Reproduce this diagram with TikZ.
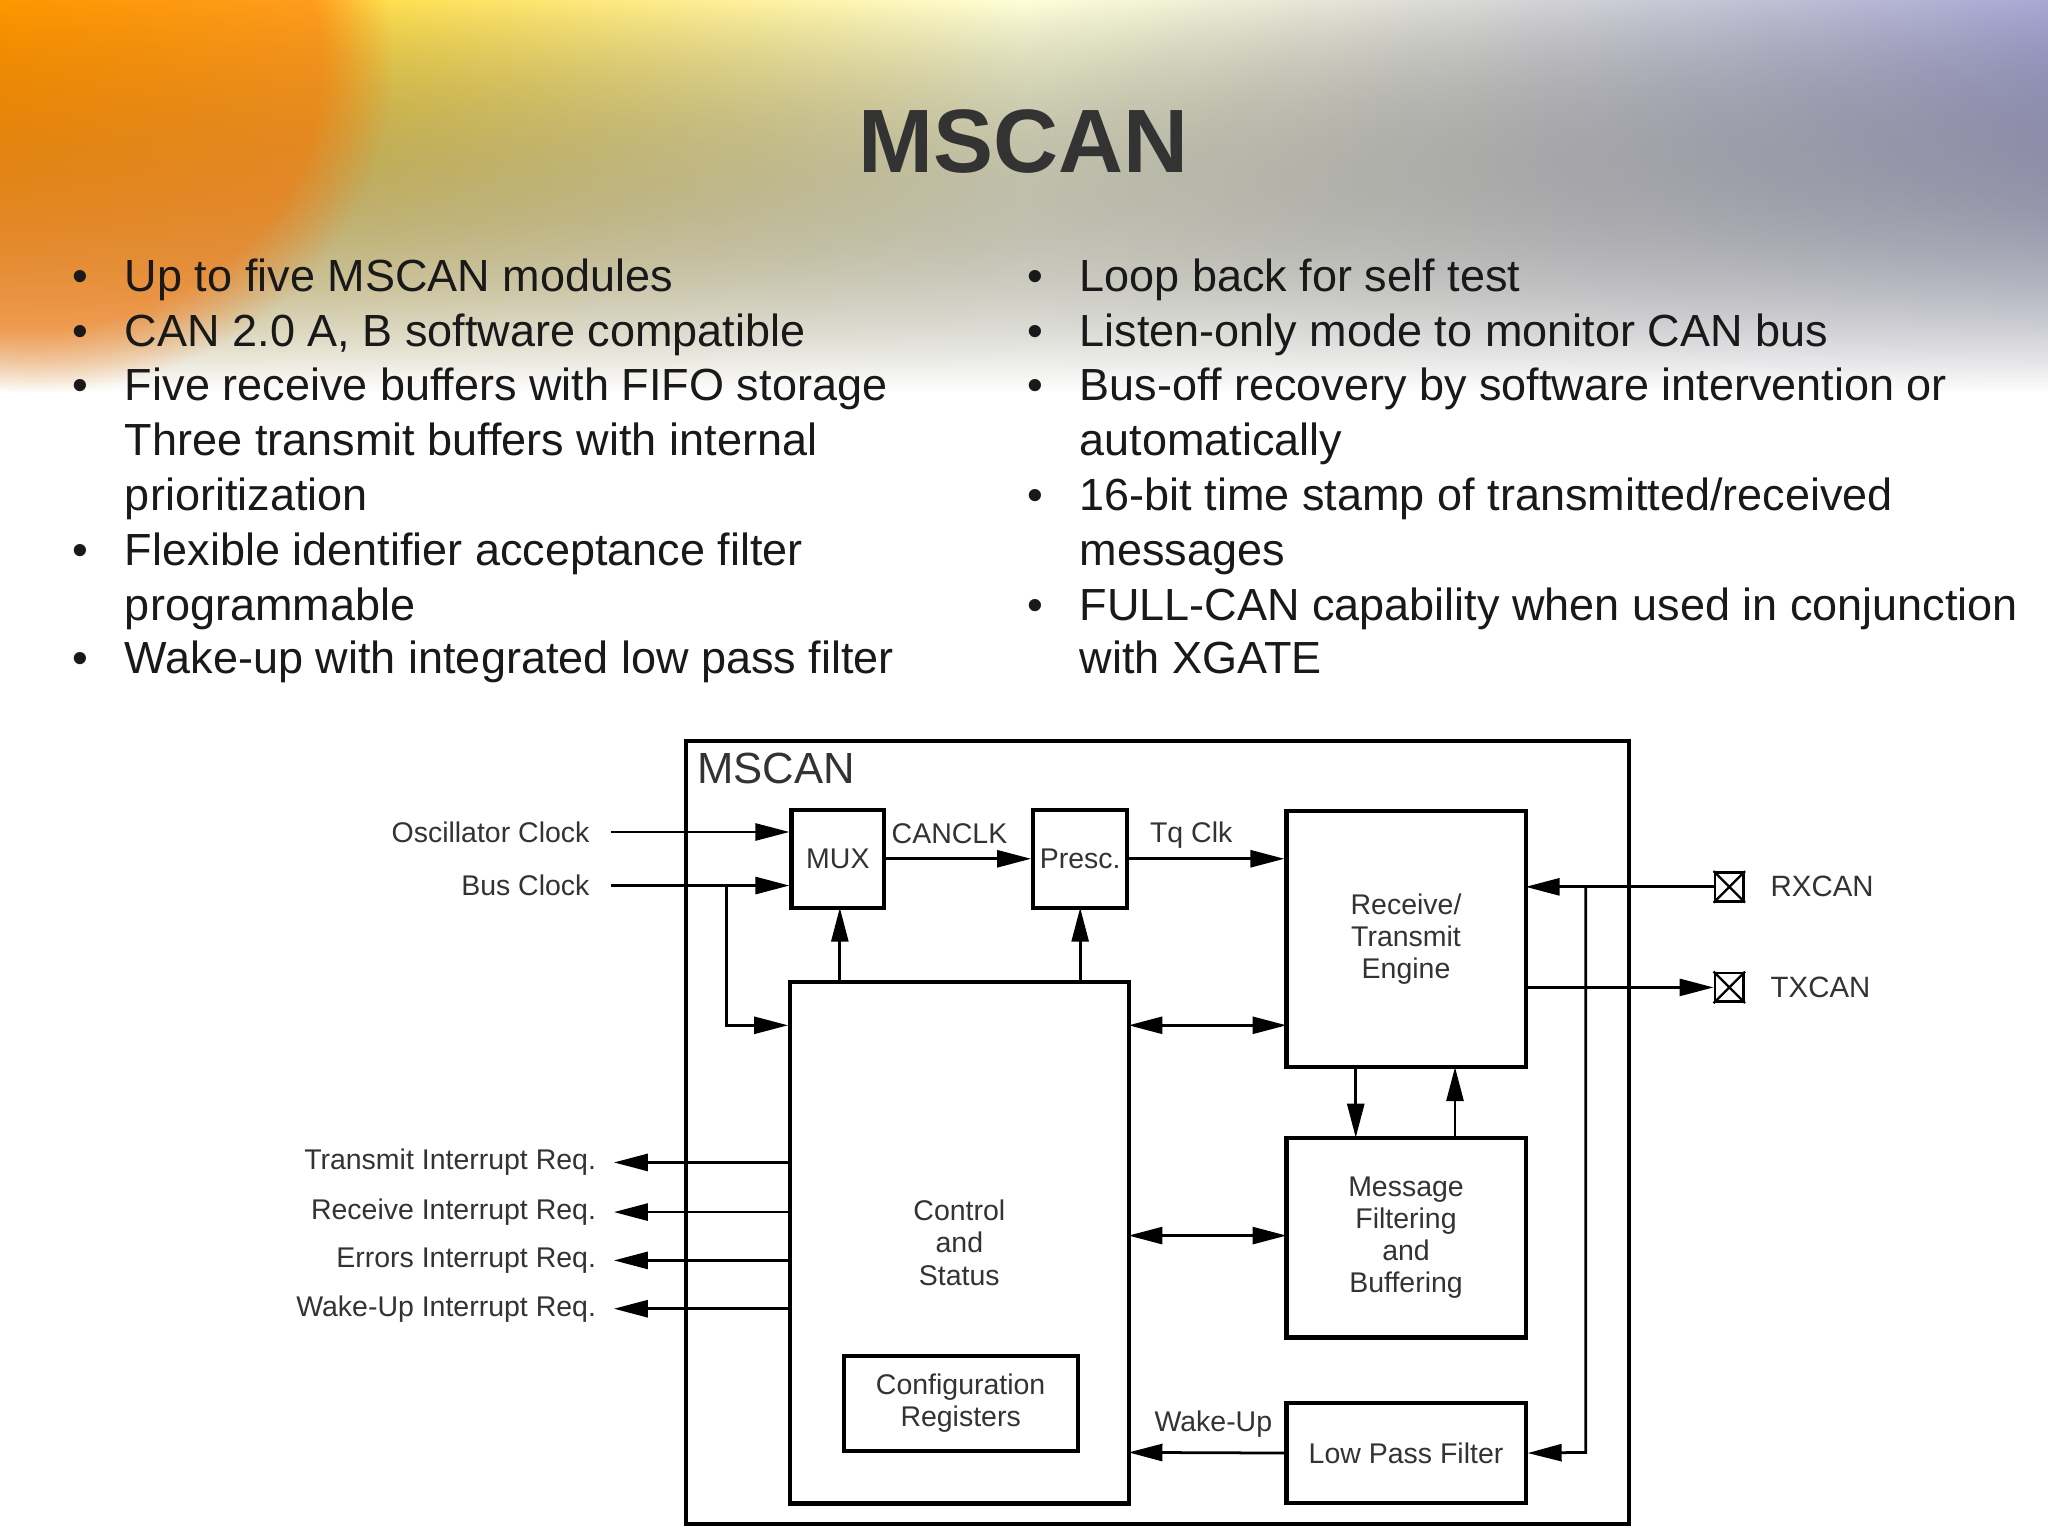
\documentclass[tikz,border=0pt]{standalone}
\usepackage{fontspec}
\setmainfont{Liberation Sans}
\usetikzlibrary{arrows.meta,fadings}
\begin{document}
\begin{tikzpicture}[x=0.01cm,y=-0.01cm,
  box/.style={draw,line width=0.9pt},
  lbl/.style={font=\fontsize{6.2}{7}\selectfont,text=black!80,inner sep=0},
  arr/.style={line width=0.6pt,-{Triangle[length=0.26cm,width=0.13cm]}},
  darr/.style={line width=0.6pt,{Triangle[length=0.26cm,width=0.13cm]}-{Triangle[length=0.26cm,width=0.13cm]}},
  bul/.style={font=\fontsize{9.8}{11.9}\selectfont,anchor=base west,inner sep=0,text=black!90}]
\useasboundingbox (0,0) rectangle (1568,1176);
\fill[white] (0,0) rectangle (1568,1176);
\fill[left color=yellow!60!orange, right color=blue!35!gray!50, middle color=yellow!15!white, path fading=south] (0,0) rectangle (1568,300);
\fill[orange!85!red, path fading=circle with fuzzy edge 20 percent, opacity=0.55] (-250,-200) rectangle (300,300);
\fill[white] (195,543) rectangle (1460,1176);
\node[font=\fontsize{19.6}{24}\selectfont\bfseries,text=black!80] (title) at (784,108) {MSCAN};
% bullets
\foreach \y/\t in {213/Up to five MSCAN modules,255/{CAN 2.0 A, B software compatible},297/Five receive buffers with FIFO storage,423/Flexible identifier acceptance filter,506/Wake-up with integrated low pass filter}
  {\node[bul] at (55,\y+10) {\textbullet}; \node[bul] at (95,\y+10) {\t};}
\node[bul] at (95,349) {Three transmit buffers with internal};
\node[bul] at (95,391) {prioritization};
\node[bul] at (95,475) {programmable};
\foreach \y/\t in {213/Loop back for self test,255/Listen-only mode to monitor CAN bus,297/Bus-off recovery by software intervention or,381/{16-bit time stamp of transmitted/received},465/FULL-CAN capability when used in conjunction}
  {\node[bul] at (786,\y+10) {\textbullet}; \node[bul] at (826,\y+10) {\t};}
\node[bul] at (826,349) {automatically};
\node[bul] at (826,433) {messages};
\node[bul] at (826,516) {with XGATE};
% diagram
\draw[box] (525,567) rectangle (1247,1167);
\node[font=\fontsize{9.5}{11}\selectfont,anchor=west,inner sep=0,text=black!80] at (533,588) {MSCAN};
\node[box,minimum width=0.71cm,minimum height=0.75cm,lbl] (mux) at (641.5,657.5) {MUX};
\node[box,minimum width=0.72cm,minimum height=0.75cm,lbl] (presc) at (827,657.5) {Presc.};
\node[box,minimum width=1.83cm,minimum height=1.96cm,lbl,align=center] (rte) at (1076.5,719) {Receive/\\Transmit\\Engine};
\node[box,minimum width=2.59cm,minimum height=3.99cm,lbl,align=center] (ctrl) at (734.5,951.5) {Control\\and\\Status};
\node[box,minimum width=1.79cm,minimum height=0.73cm,lbl,align=center] (cfg) at (735.5,1074.5) {Configuration\\Registers};
\node[box,minimum width=1.83cm,minimum height=1.53cm,lbl,align=center] (mfb) at (1076.5,947.5) {Message\\Filtering\\and\\Buffering};
\node[box,minimum width=1.83cm,minimum height=0.77cm,lbl] (lpf) at (1076.5,1112.5) {Low Pass Filter};
% clocks
\node[lbl,anchor=east] (osc) at (452,637) {Oscillator Clock};
\node[lbl,anchor=east] (bus) at (452,678) {Bus Clock};
\coordinate (osce) at (468,637); \coordinate (buse) at (468,678);
\draw[arr] (osce) -- (osce -| mux.west);
\draw[arr] (buse) -- (buse -| mux.west);
\coordinate (br) at (556,678); \coordinate (brd) at (556,785);
\draw[arr] (br) -- (brd) -- (brd -| ctrl.west);
\draw[arr] (mux.east) -- node[lbl,above=3pt,xshift=-2pt]{CANCLK} (presc.west);
\draw[arr] (presc.east) -- node[lbl,above=2pt,xshift=-3.4pt]{Tq Clk} (presc.east -| rte.west);
\draw[arr] (643,752) -- (643,695);
\draw[arr] (827,752) -- (827,695);
\draw[darr] (864,785) -- (985,785);
\draw[darr] (864,946) -- (985,946);
\draw[arr] (1038,817) -- (1038,871);
\draw[arr] (1114,871) -- (1114,817);
% interrupts
\foreach \y/\t in {890/Transmit Interrupt Req.,928/Receive Interrupt Req.,965/Errors Interrupt Req.,1002/Wake-Up Interrupt Req.}
  {\coordinate (i\y) at (470,\y); \draw[arr] (605,\y) -- (i\y); \node[lbl,anchor=east] at (457,\y) {\t};}
% rx/tx
\node[draw,line width=0.6pt,minimum size=0.22cm,inner sep=0] (rx) at (1324,679) {};
\draw[line width=0.5pt] (rx.north west)--(rx.south east) (rx.north east)--(rx.south west);
\node[draw,line width=0.6pt,minimum size=0.22cm,inner sep=0] (tx) at (1324,756) {};
\draw[line width=0.5pt] (tx.north west)--(tx.south east) (tx.north east)--(tx.south west);
\node[lbl,anchor=west,font=\fontsize{6.4}{7}\selectfont] at (1355,679) {RXCAN};
\node[lbl,anchor=west,font=\fontsize{6.4}{7}\selectfont] at (1355,756) {TXCAN};
\draw[arr] (rx.west) -- (1168,679);
\coordinate (rb) at (1214,679); \coordinate (rbd) at (1214,1112);
\draw[arr] (rb) -- (rbd) -- (lpf.east);
\draw[arr] (1168,756) -- (tx.west);
\draw[arr] (lpf.west) -- node[lbl,above=3pt,xshift=1.5pt]{Wake-Up} (864,1112);
\end{tikzpicture}
\end{document}
